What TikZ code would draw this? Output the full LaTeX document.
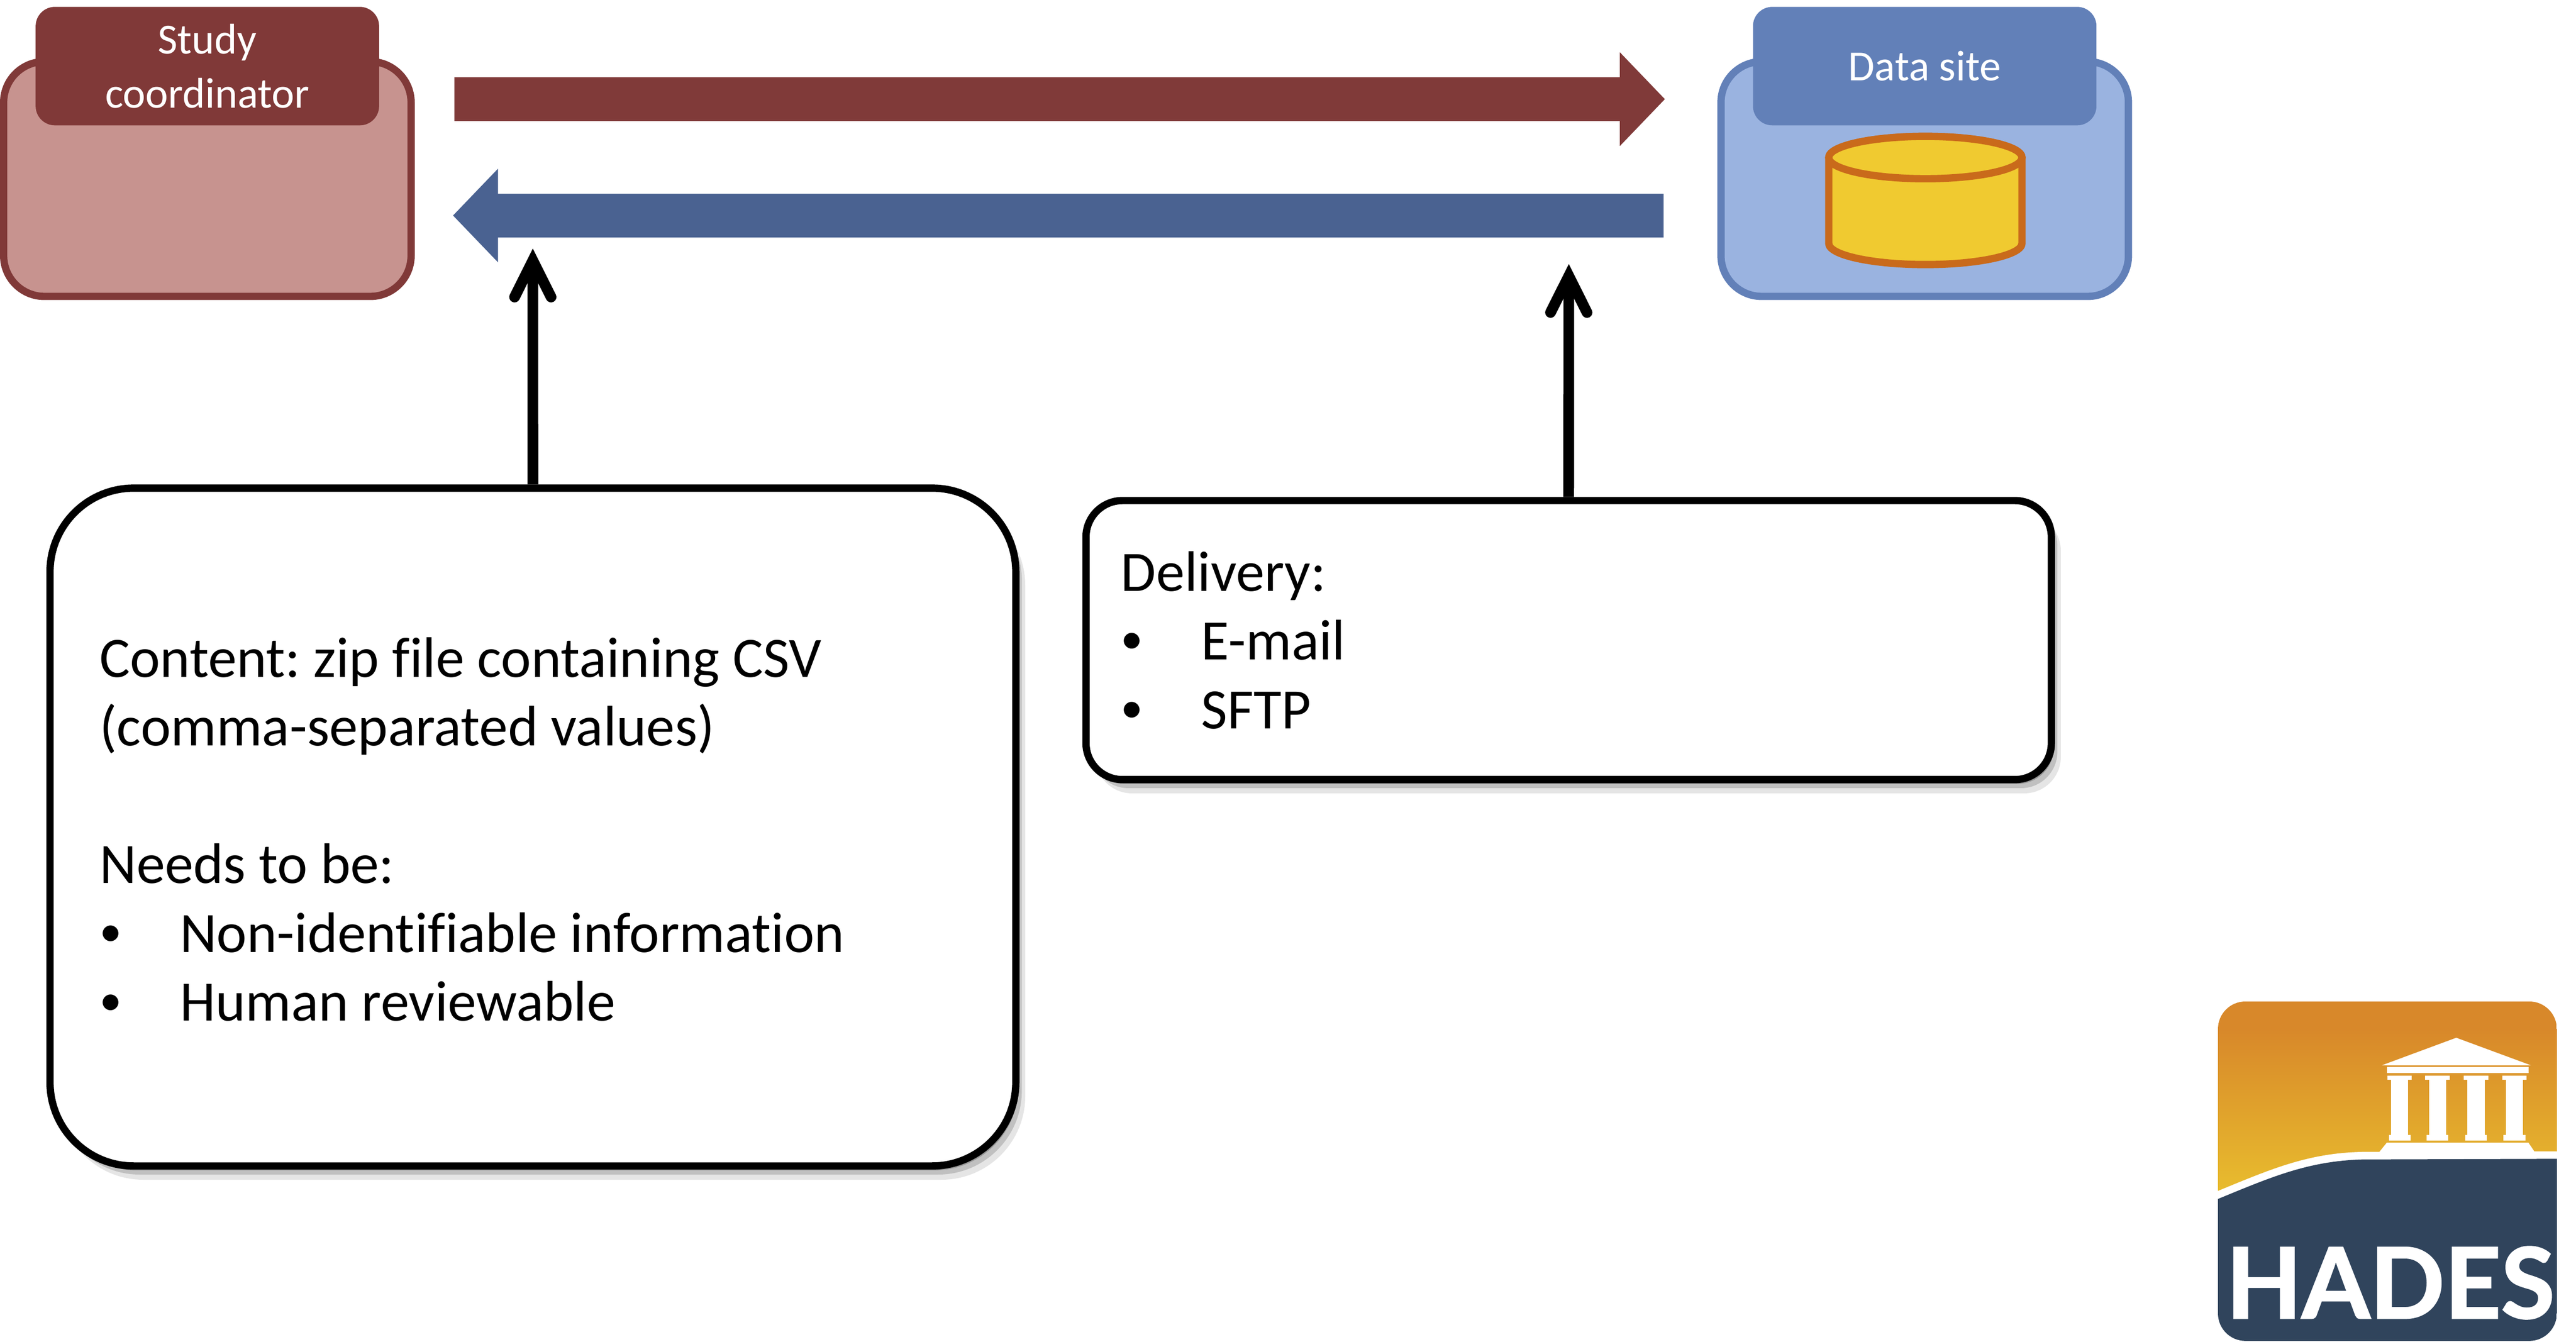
\documentclass[tikz,border=0pt]{standalone}
\usepackage{fontspec}
\setmainfont{Carlito}[Ligatures=NoCommon]
\newfontfamily\logofont{Lato}[BoldFeatures={FakeBold=1.5}]
\usetikzlibrary{arrows.meta,shadows}

\definecolor{studydark}{HTML}{803938}
\definecolor{studylight}{HTML}{C7938F}
\definecolor{sitedark}{HTML}{6280B8}
\definecolor{sitelight}{HTML}{9AB3E0}
\definecolor{flowred}{HTML}{803A39}
\definecolor{flowblue}{HTML}{4A6291}
\definecolor{dbfill}{HTML}{F0CA30}
\definecolor{dbline}{HTML}{C96A1B}
\definecolor{logonavy}{HTML}{30445C}
\definecolor{logotop}{HTML}{D8882A}
\definecolor{logobottom}{HTML}{E8BC2E}

\newcommand{\bulletline}[1]{\makebox[1.87cm][l]{\raisebox{.14cm}{\scalebox{.78}{\textbullet}}}#1}

\tikzset{
  softshadow/.style={
    drop shadow={shadow xshift=.06cm, shadow yshift=-.1cm, opacity=.22, fill=black},
    drop shadow={shadow xshift=.14cm, shadow yshift=-.2cm, opacity=.16, fill=black},
    drop shadow={shadow xshift=.22cm, shadow yshift=-.32cm, opacity=.1, fill=black}},
  party/.style={draw, rectangle, line width=.17cm, rounded corners=.95cm, minimum width=9.49cm, minimum height=5.47cm},
  partyhead/.style={rectangle, rounded corners=.45cm, minimum width=8cm, minimum height=2.76cm, text=white, align=flush center, font=\frenchspacing\fontsize{28.5}{35.6}\selectfont},
  notebox/.style={draw=black, fill=white, rectangle, line width=.17cm, align=flush left, font=\frenchspacing\fontsize{37.9}{45.6}\selectfont, softshadow},
  bigflow/.style={line width=1.02cm, -{Triangle[length=1.05cm, width=2.12cm]}},
  pointer/.style={line width=.25cm, -{Straight Barb[length=.85cm, width=.85cm, line width=.25cm, line cap=round, line join=miter]}},
}

\begin{document}
\begin{tikzpicture}
  \useasboundingbox (0, 0) rectangle (60, 31.25);

  \node[party, draw=studydark, fill=studylight] (study) at (4.83, 27.08) {};
  \node[partyhead, fill=studydark] (studyhead) at (4.83, 29.71) {Study\\coordinator};

  \node[party, draw=sitedark, fill=sitelight] (site) at (44.83, 27.08) {};
  \node[partyhead, fill=sitedark] (sitehead) at (44.83, 29.71) {Data site};

  \draw[line width=.17cm, draw=dbline, fill=dbfill] (42.595, 27.58) -- (42.595, 25.58)
    arc[start angle=180, end angle=360, x radius=2.25, y radius=.493] -- (47.095, 27.58)
    arc[start angle=0, end angle=180, x radius=2.25, y radius=.493];
  \draw[line width=.17cm, draw=dbline, fill=dbfill] (44.845, 27.58) ellipse (2.25cm and .493cm);

  \draw[bigflow, draw=flowred, shorten <=.92cm, shorten >=1.22cm] ([yshift=1.86cm]study.east) -- ([yshift=1.86cm]site.west);
  \draw[bigflow, draw=flowblue, shorten <=1.25cm, shorten >=.89cm] ([yshift=-.85cm]site.west) -- ([yshift=-.85cm]study.east);

  \node[notebox, rounded corners=1.95cm, minimum height=15.79cm, text width=20.185cm, inner xsep=1.155cm] (content) at (12.4125, 11.985) {
    \rule{0pt}{1.03cm}Content: zip file containing CSV\\
    (comma-separated values)\\
    ~\\
    Needs to be:\\
    \bulletline{Non-identifiable information}\\
    \bulletline{Human reviewable}};
  \node[notebox, rounded corners=.85cm, minimum height=6.5cm, text width=20.855cm, inner xsep=.815cm] (delivery) at (36.5375, 16.34) {
    Delivery:\\
    \bulletline{E-mail}\\
    \bulletline{SFTP}};

  \coordinate (contenttip) at (12.41, 25.46);
  \coordinate (deliverytip) at (36.54, 25.1);
  \draw[pointer] (content.north) -- (contenttip);
  \draw[pointer] (delivery.north) -- (deliverytip);

  \begin{scope}[shift={(51, 8.35)}, x=.0574mm, y=-.0535mm]
    \begin{scope}
      \clip[rounded corners=.64cm] (115, 80) rectangle (1490, 1558);
      \shade[top color=logotop, bottom color=logobottom] (115, 200) rectangle (1490, 905);
      \fill[logotop] (115, 80) rectangle (1490, 205);
      \fill[white] (115, 905) .. controls (330, 810) and (480, 740) .. (700, 735) -- (1490, 733) -- (1490, 1000) -- (115, 1000) -- cycle;
      \fill[logonavy] (115, 940) .. controls (330, 845) and (480, 775) .. (700, 768) -- (1490, 765) -- (1490, 1558) -- (115, 1558) -- cycle;
    \end{scope}
    \fill[white] (1082, 238) -- (1385, 358) -- (780, 358) -- cycle;
    \fill[white] (800, 365) rectangle (1375, 392);
    \foreach \colx in {852, 1006, 1162, 1318} {
      \fill[white] (\colx-50, 403) rectangle (\colx+50, 420);
      \fill[white] (\colx-35, 420) rectangle (\colx+35, 660);
      \fill[white] (\colx-44, 660) rectangle (\colx+44, 685);
    }
    \fill[white] (800, 695) -- (1375, 695) -- (1400, 735) -- (1400, 760) -- (770, 760) -- (770, 735) -- cycle;
    \node[text=white, inner sep=0pt, font=\fontsize{65}{65}\selectfont\logofont\bfseries] (hades) at (815, 1305) {HADES};
  \end{scope}
\end{tikzpicture}
\end{document}
